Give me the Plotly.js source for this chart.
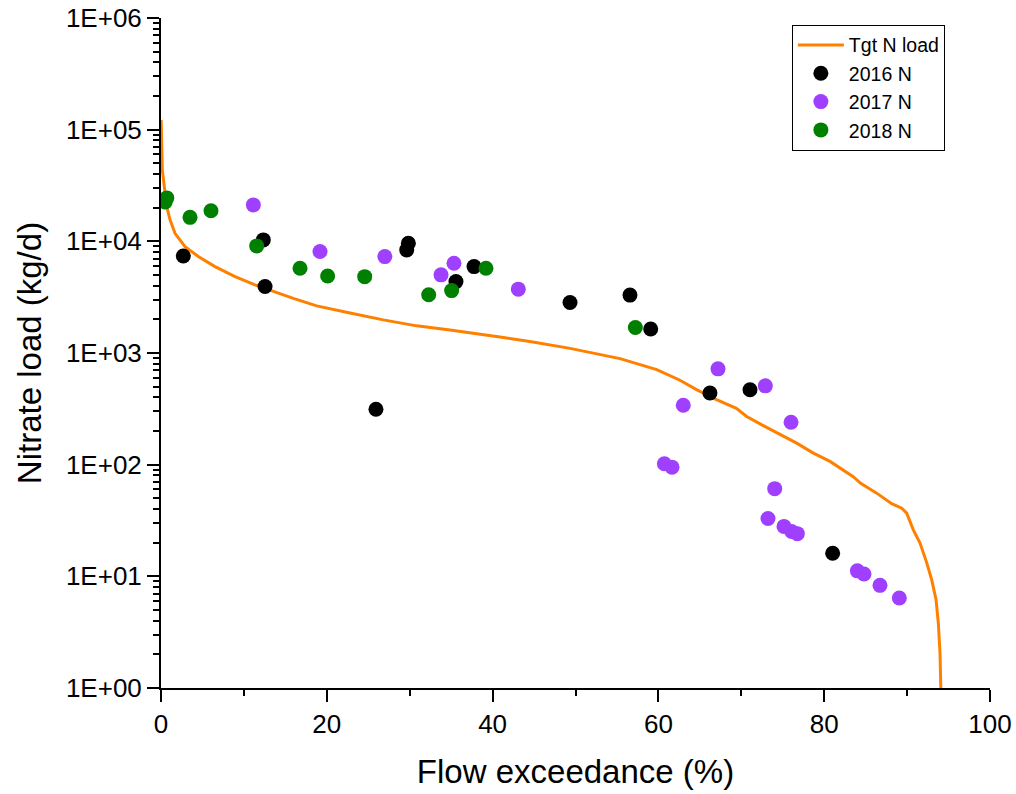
<!DOCTYPE html>
<html>
<head>
<meta charset="utf-8">
<script src="https://cdn.plot.ly/plotly-3.0.1.min.js"></script>
<style>html,body{margin:0;padding:0;background:#fff;}#chart{width:1016px;height:794px;}</style>
</head>
<body>
<div id="chart"></div>
<script>
// Target N load curve
const tgtX = [0.02, 0.08, 0.16, 0.4, 0.69, 1.09, 1.69, 2.9, 4.5, 6.51, 8.93, 11.34, 12.55, 14.76, 15.96, 18.78, 22.8, 26.82, 30.84, 34.86, 40.89, 44.5, 49.34, 55.37, 59.8, 62.6, 64.6, 66.6, 69.4, 70.65, 72.65, 76.68, 78.69, 80.7, 83.5, 84.4, 86.33, 88.14, 89.35, 89.95, 90.75, 91.56, 92.37, 92.97, 93.49, 93.77, 93.97, 94.05, 94.1];
const tgtY = [122000, 75500, 43600, 30900, 20500, 15560, 11800, 8970, 7310, 5940, 4830, 4070, 3800, 3320, 3080, 2640, 2280, 1980, 1750, 1610, 1390, 1270, 1100, 890, 710, 570, 470, 395, 320, 270, 224, 156, 127, 107, 78, 68, 55.6, 44.7, 40.8, 36.8, 26.1, 19.9, 13.2, 9.3, 6.2, 3.8, 2.06, 1.0, 0.8];

// 2016 N
const x2016 = [2.69, 12.34, 12.55, 25.93, 29.64, 29.84, 35.58, 37.76, 49.34, 56.57, 59.07, 66.22, 71.05, 81.02];
const y2016 = [7400, 10300, 3940, 314, 8380, 9600, 4360, 5940, 2830, 3300, 1640, 438, 468, 16.1];

// 2017 N
const x2017 = [11.14, 19.18, 27.0, 33.78, 35.34, 43.1, 60.72, 61.64, 63.0, 67.19, 72.9, 73.22, 74.03, 75.15, 76.07, 76.76, 76.0, 84.0, 84.8, 86.73, 89.06];
const y2017 = [21200, 8100, 7300, 5010, 6370, 3730, 102, 95, 341, 721, 508, 33, 61, 28, 25.2, 24.1, 240, 11.2, 10.5, 8.3, 6.4];

// 2018 N
const x2018 = [0.7, 0.5, 3.5, 6.03, 11.54, 16.77, 20.1, 24.57, 32.29, 35.06, 39.2, 57.22];
const y2018 = [24500, 22500, 16400, 18800, 9100, 5740, 4900, 4830, 3320, 3620, 5740, 1690];

const yTickVals = [1, 10, 100, 1000, 10000, 100000, 1000000];
const yTickText = ['1E+00', '1E+01', '1E+02', '1E+03', '1E+04', '1E+05', '1E+06'];
const seriesNames = ['Tgt N load', '2016 N', '2017 N', '2018 N'];

const FONT = 'Arial, "Liberation Sans", sans-serif';

const traces = [
  {x: tgtX, y: tgtY, name: seriesNames[0], mode: 'lines', type: 'scatter',
   line: {color: '#FF8000', width: 3}},
  {x: x2016, y: y2016, name: seriesNames[1], mode: 'markers', type: 'scatter',
   marker: {color: '#000000', size: 15}},
  {x: x2017, y: y2017, name: seriesNames[2], mode: 'markers', type: 'scatter',
   marker: {color: '#A040FF', size: 15}},
  {x: x2018, y: y2018, name: seriesNames[3], mode: 'markers', type: 'scatter',
   marker: {color: '#008000', size: 15}}
];

const layout = {
  width: 1016, height: 794,
  margin: {l: 161, r: 26, t: 18, b: 106, pad: 0},
  paper_bgcolor: '#fff', plot_bgcolor: '#fff',
  font: {family: FONT, color: '#000'},
  showlegend: true,
  legend: {
    x: 0.761, y: 0.99, xanchor: 'left', yanchor: 'top',
    bgcolor: '#fff', bordercolor: '#000', borderwidth: 1,
    font: {family: FONT, size: 19.5, color: '#000'},
    itemwidth: 46,
    tracegroupgap: 0
  },
  xaxis: {
    range: [0, 100], dtick: 20, tick0: 0,
    showgrid: false, zeroline: false,
    showline: true, linecolor: '#000', linewidth: 2,
    ticks: 'outside', ticklen: 12, tickwidth: 2, tickcolor: '#000',
    minor: {ticks: 'outside', ticklen: 6, tickwidth: 2, tickcolor: '#000', dtick: 10, showgrid: false},
    tickfont: {family: FONT, size: 26, color: '#000'},
    title: {text: 'Flow exceedance (%)', font: {family: FONT, size: 33, color: '#000'}, standoff: 22}
  },
  yaxis: {
    type: 'log', range: [0, 6],
    tickvals: yTickVals, ticktext: yTickText,
    showgrid: false, zeroline: false,
    showline: true, linecolor: '#000', linewidth: 2,
    ticks: 'outside', ticklen: 12, tickwidth: 2, tickcolor: '#000',
    minor: {ticks: 'outside', ticklen: 6, tickwidth: 2, tickcolor: '#000', dtick: 'D1', showgrid: false},
    tickfont: {family: FONT, size: 26, color: '#000'},
    title: {text: 'Nitrate load (kg/d)', font: {family: FONT, size: 33, color: '#000'}, standoff: 14}
  }
};

Plotly.newPlot('chart', traces, layout, {displayModeBar: false, staticPlot: true});
</script>
</body>
</html>
